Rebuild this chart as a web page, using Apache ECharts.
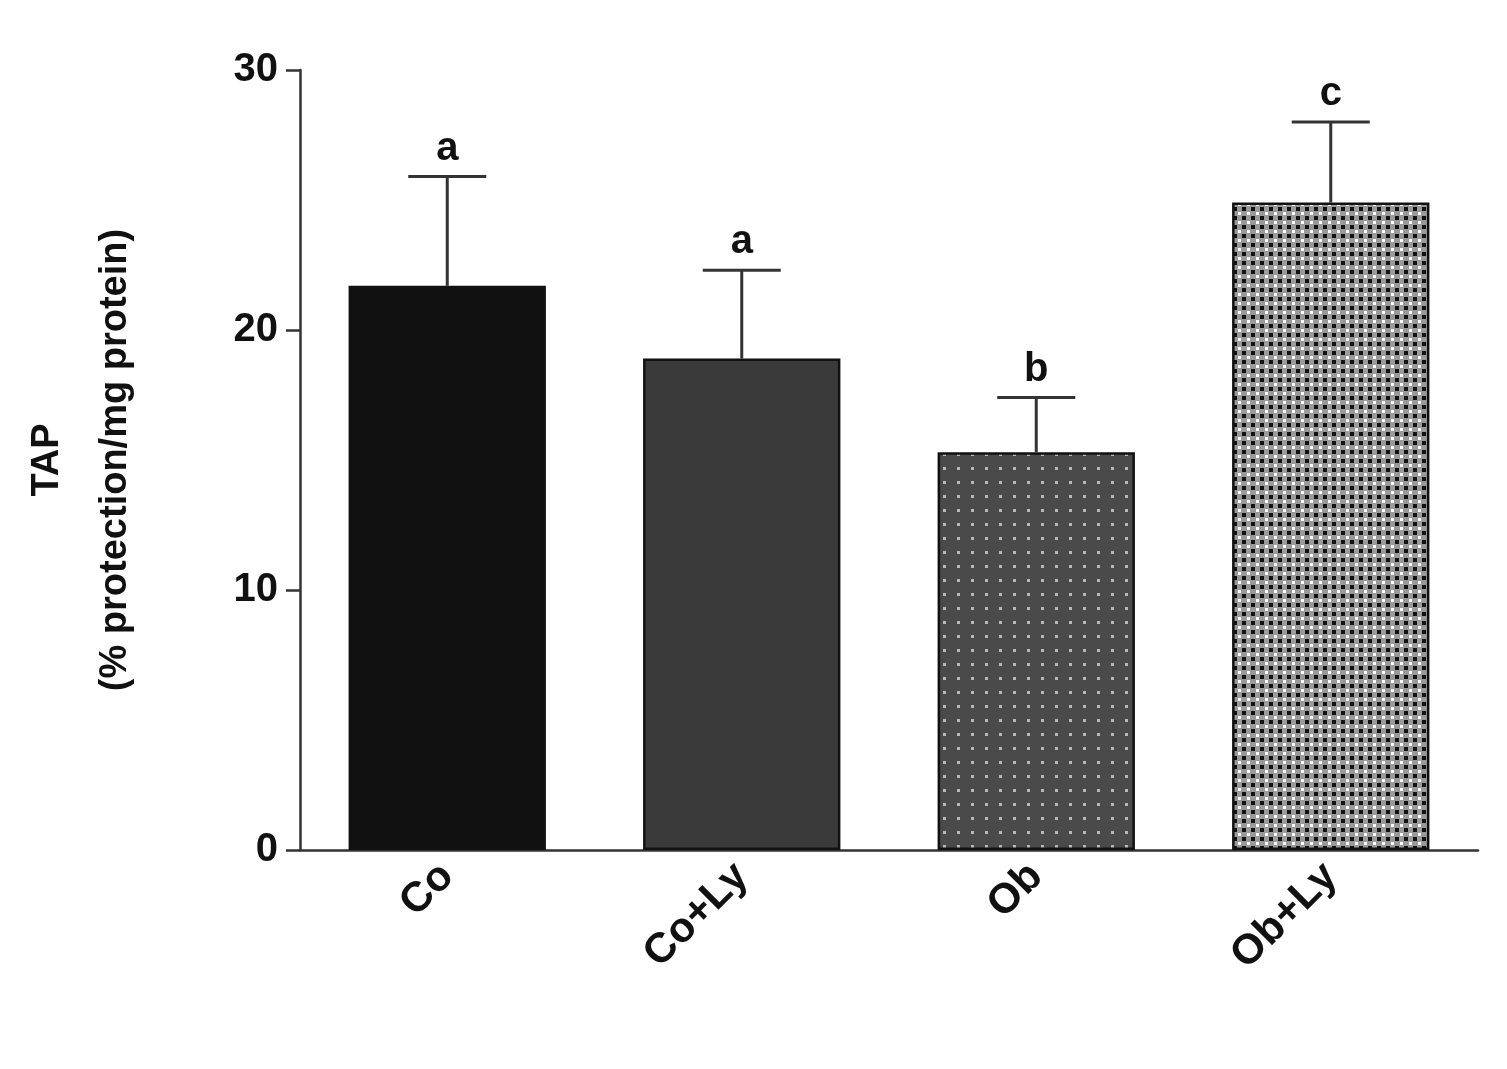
<!DOCTYPE html>
<html><head><meta charset="utf-8">
<script src="https://cdn.jsdelivr.net/npm/echarts@6/dist/echarts.min.js"></script>
<style>html,body{margin:0;background:#fff}#c{width:1507px;height:1069px}</style>
</head><body><div id="c"></div>
<script>
const categories = ['Co', 'Co+Ly', 'Ob', 'Ob+Ly'];
const means = [21.7, 18.9, 15.3, 24.9];
const errors = [4.2, 3.4, 2.1, 3.1];
const letters = ['a', 'a', 'b', 'c'];

function pat(size, draw) {
  const c = document.createElement('canvas'); c.width = size; c.height = size;
  draw(c.getContext('2d')); return { image: c, repeat: 'repeat' };
}
const fills = [
  '#111111',
  '#3a3a3a',
  pat(14, g => { g.fillStyle = '#4a4a4a'; g.fillRect(0,0,14,14); g.fillStyle = '#b8b8b8'; g.fillRect(5,5,3,3); }),
  pat(9, g => { g.fillStyle = '#9a9a9a'; g.fillRect(0,0,9,9); g.fillStyle = '#111'; g.fillRect(0,0,4,4); g.fillStyle = '#fff'; g.fillRect(5,5,3,3); })
];

const chart = echarts.init(document.getElementById('c'));
const F = 'Liberation Sans, Arial, sans-serif';
chart.setOption({
  animation: false,
  grid: { left: 300, right: 29, top: 70, bottom: 219 },
  xAxis: {
    type: 'category', data: categories,
    axisLine: { lineStyle: { color: '#333', width: 2.5 } },
    axisTick: { alignWithLabel: true, length: 12, lineStyle: { color: '#333', width: 2.5 } },
    axisLabel: { rotate: 45, fontSize: 42, fontWeight: 'bold', color: '#111', fontFamily: F, margin: 20 }
  },
  yAxis: {
    type: 'value', min: 0, max: 30, interval: 10,
    name: '{t|TAP}\n{s|(% protection/mg protein)}', nameLocation: 'middle', nameGap: 150, nameRotate: 90,
    nameTextStyle: { rich: { t: { fontSize: 38, fontWeight: 'bold', fontFamily: F, color: '#111', lineHeight: 68 },
                             s: { fontSize: 38, fontWeight: 'bold', fontFamily: F, color: '#111', lineHeight: 68 } } },
    axisLine: { show: true, lineStyle: { color: '#333', width: 2.5 } },
    axisTick: { show: true, length: 14, lineStyle: { color: '#333', width: 2.5 } },
    splitLine: { show: false },
    axisLabel: { fontSize: 40, fontWeight: 'bold', color: '#111', fontFamily: F, margin: 22 }
  },
  series: [
    { type: 'bar', barWidth: '67%',
      data: means.map((v, i) => ({ value: v, itemStyle: { color: fills[i], borderColor: '#111', borderWidth: 2.5 } })) },
    { type: 'custom', z: 5,
      data: means.map((v, i) => [i, v, v + errors[i]]),
      renderItem: (p, api) => {
        const b = api.coord([api.value(0), api.value(1)]);
        const t = api.coord([api.value(0), api.value(2)]);
        const x = b[0], hw = 39;
        const st = { stroke: '#333', lineWidth: 3 };
        return { type: 'group', children: [
          { type: 'line', shape: { x1: x, y1: b[1], x2: x, y2: t[1] }, style: st },
          { type: 'line', shape: { x1: x - hw, y1: t[1], x2: x + hw, y2: t[1] }, style: st },
          { type: 'text', style: { text: letters[p.dataIndex], x: x, y: t[1] - 8, align: 'center', verticalAlign: 'bottom',
            fontSize: 40, fontWeight: 'bold', fontFamily: F, fill: '#111' } }
        ] };
      } }
  ]
});
</script></body></html>
